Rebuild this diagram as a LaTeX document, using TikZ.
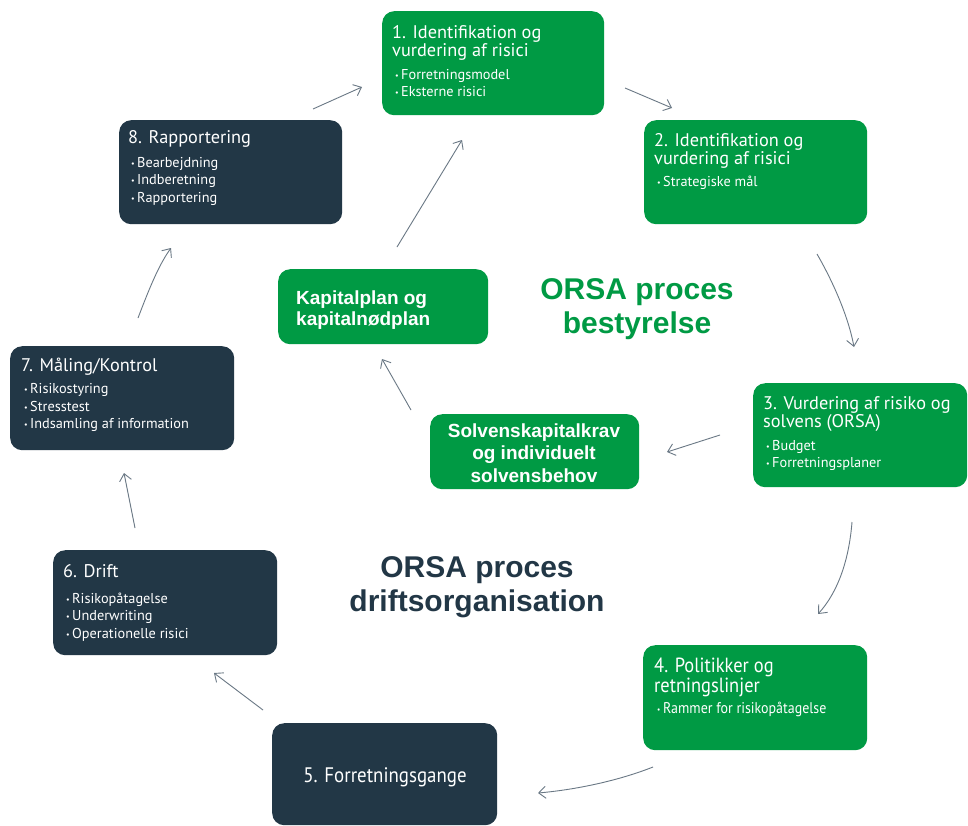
\documentclass[tikz,border=0pt]{standalone}
\usepackage{fontspec}
\setmainfont{PT Sans}
\newfontfamily\headfont{Liberation Sans}
\newfontfamily\narrowfont{PT Sans}[FakeStretch=0.9]
\usetikzlibrary{arrows.meta}

\definecolor{orsagreen}{HTML}{009A44}
\definecolor{orsanavy}{HTML}{223746}
\definecolor{flowgray}{HTML}{6A7885}

\newcommand{\bp}{\raisebox{0.12ex}{\fontsize{8}{8}\selectfont\textbullet}\,}

% multi-line nodes below are placed by the baseline of their last line
\tikzset{
  stepbox/.style={anchor=north west, rounded corners=12pt, inner sep=0pt, draw=none},
  greenbox/.style={stepbox, fill=orsagreen},
  navybox/.style={stepbox, fill=orsanavy},
  boxtitle/.style={anchor=base west, inner sep=0pt, align=left, text=white,
    font=\fontsize{18.3}{18.5}\selectfont},
  boxlist/.style={anchor=base west, inner sep=0pt, align=left, text=white,
    font=\fontsize{14.3}{17.5}\selectfont},
  boldlabel/.style={anchor=base, inner sep=0pt, text=white,
    font=\headfont\bfseries\fontsize{19}{22.5}\selectfont},
  bigtitle/.style={anchor=base, inner sep=0pt, align=center,
    font=\headfont\bfseries\fontsize{30}{34}\selectfont},
  flow/.style={draw=flowgray, line width=0.9pt,
    -{Straight Barb[length=7pt,width=12pt]}}
}

\begin{document}
\begin{tikzpicture}[x=1pt,y=-1pt]
\useasboundingbox[fill=white] (0,0) rectangle (968,825);

% ---- outer ring of process steps ----
\node[greenbox, minimum width=222pt, minimum height=104pt] (n1) at (382,11) {};
\node[boxtitle] (t1) at (392,56.5) {1. Identifikation og\\vurdering af risici};
\node[boxlist]  (l1) at (395,96.5) {\bp Forretningsmodel\\\bp Eksterne risici};

\node[greenbox, minimum width=223pt, minimum height=104pt] (n2) at (644,120) {};
\node[boxtitle] (t2) at (654,164.5) {2. Identifikation og\\vurdering af risici};
\node[boxlist]  (l2) at (657,186) {\bp Strategiske mål};

\node[greenbox, minimum width=214pt, minimum height=104pt] (n3) at (753,383) {};
\node[boxtitle] (t3) at (763,427.5) {3. Vurdering af risiko og\\solvens (ORSA)};
\node[boxlist]  (l3) at (766,467.5) {\bp Budget\\\bp Forretningsplaner};

\node[greenbox, minimum width=224pt, minimum height=105pt] (n4) at (643,645) {};
\node[boxtitle, font=\narrowfont\fontsize{20.5}{20}\selectfont] (t4) at (654,692)
  {4. Politikker og\\retningslinjer};
\node[boxlist, font=\narrowfont\fontsize{15.5}{18}\selectfont] (l4) at (657,713)
  {\bp Rammer for risikopåtagelse};

\node[navybox, minimum width=225pt, minimum height=102pt] (n5) at (272,723) {};
\node[anchor=base, inner sep=0pt, text=white, font=\narrowfont\fontsize{21}{20}\selectfont]
  (t5) at (385,782) {5. Forretningsgange};

\node[navybox, minimum width=224pt, minimum height=105pt] (n6) at (53,550) {};
\node[boxtitle] (t6) at (63,577) {6. Drift};
\node[boxlist]  (l6) at (66,638) {\bp Risikopåtagelse\\\bp Underwriting\\\bp Operationelle risici};

\node[navybox, minimum width=224pt, minimum height=104pt] (n7) at (10,346) {};
\node[boxtitle] (t7) at (21,371) {7. Måling/Kontrol};
\node[boxlist]  (l7) at (24,428.5) {\bp Risikostyring\\\bp Stresstest\\\bp Indsamling af information};

\node[navybox, minimum width=223pt, minimum height=104pt] (n8) at (119,120) {};
\node[boxtitle] (t8) at (128,143) {8. Rapportering};
\node[boxlist]  (l8) at (131,202) {\bp Bearbejdning\\\bp Indberetning\\\bp Rapportering};

% ---- inner board loop ----
\node[greenbox, minimum width=210pt, minimum height=75pt] (kp) at (278,269) {};
\node[boldlabel, anchor=base west, align=left, font=\headfont\bfseries\fontsize{19}{21}\selectfont]
  (kpt) at (296,325) {Kapitalplan og\\kapitalnødplan};

\node[greenbox, minimum width=209pt, minimum height=75pt] (sk) at (430,414) {};
\node[boldlabel, align=center] (skt) at (534,482)
  {Solvenskapitalkrav\\og individuelt\\solvensbehov};

% ---- centre headings ----
\node[bigtitle, text=orsagreen] (hb) at (637,333) {ORSA proces\\bestyrelse};
\node[bigtitle, text=orsanavy]  (hd) at (477,611) {ORSA proces\\driftsorganisation};

% ---- arrow end points ----
\coordinate (a81) at (313,109);  \coordinate (b81) at (362,87);
\coordinate (a12) at (625,88);   \coordinate (b12) at (672,108);
\coordinate (a23) at (817,254);  \coordinate (b23) at (854,347);
\coordinate (a34) at (852,522);  \coordinate (b34) at (818,614);
\coordinate (a45) at (653,767);  \coordinate (b45) at (538,793);
\coordinate (a56) at (263,710);  \coordinate (b56) at (214,673);
\coordinate (a67) at (135,528);  \coordinate (b67) at (124,473);
\coordinate (a78) at (138,318);  \coordinate (b78) at (171,248);
\coordinate (a3s) at (720,435);  \coordinate (b3s) at (667,452);
\coordinate (ask) at (411,410);  \coordinate (bsk) at (382,359);
\coordinate (akp) at (397,247);  \coordinate (bkp) at (462,140);

% ---- connectors ----
\draw[flow] (a81) -- (b81);
\draw[flow] (a12) -- (b12);
\draw[flow] (a23) .. controls (832,280) and (848,315) .. (b23);
\draw[flow] (a34) .. controls (849,560) and (838,592) .. (b34);
\draw[flow] (a45) .. controls (615,782) and (572,790) .. (b45);
\draw[flow] (a56) -- (b56);
\draw[flow] (a67) -- (b67);
\draw[flow] (a78) .. controls (148,292) and (158,266) .. (b78);
\draw[flow] (a3s) -- (b3s);
\draw[flow] (ask) -- (bsk);
\draw[flow] (akp) -- (bkp);
\end{tikzpicture}
\end{document}
